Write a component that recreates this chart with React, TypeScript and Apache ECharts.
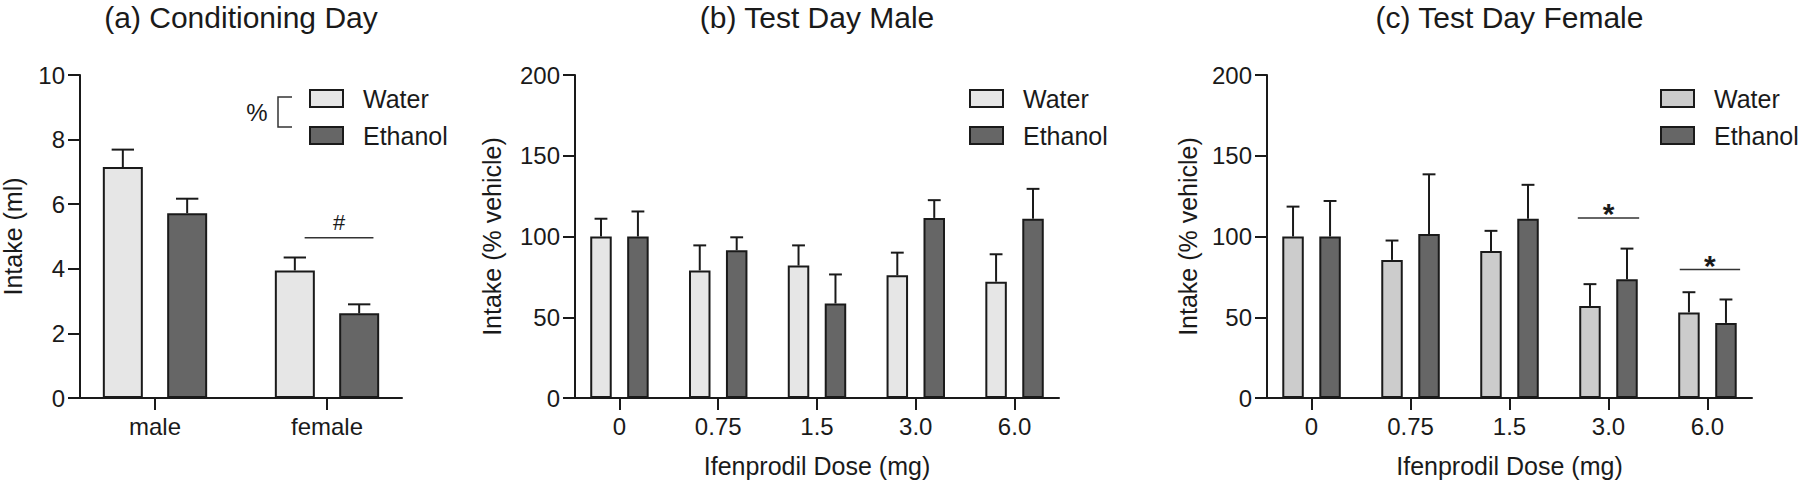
import { useEffect, useRef } from 'react';
import * as echarts from 'echarts';

// ---------- data ----------
const panelTitles = ['(a) Conditioning Day', '(b) Test Day Male', '(c) Test Day Female'];
const seriesNames = ['Water', 'Ethanol'];

const sexCategories = ['male', 'female'];
const condWater = [7.15, 3.95];
const condWaterErr = [0.54, 0.4];
const condEthanol = [5.72, 2.62];
const condEthanolErr = [0.45, 0.28];

const doseLabels = ['0', '0.75', '1.5', '3.0', '6.0'];
const maleWater = [100, 79, 82, 76, 72];
const maleWaterErr = [11, 15.5, 12.5, 14, 17];
const maleEthanol = [100, 91.5, 58.5, 111.5, 111];
const maleEthanolErr = [15.5, 8, 18, 11, 18.5];

const femaleWater = [100, 85.5, 91, 57, 53];
const femaleWaterErr = [18.5, 12, 12.5, 13.5, 12.5];
const femaleEthanol = [100, 101.5, 111, 73.5, 46.5];
const femaleEthanolErr = [22, 37, 21, 19, 14.5];

const condSig = [{ from: 0.87, to: 1.27, y: 4.96, mark: '#' }];
const femaleSig = [
  { from: 2.69, to: 3.31, y: 111.5, mark: '*' },
  { from: 3.72, to: 4.33, y: 79.5, mark: '*' },
];

const yNames = ['Intake (ml)', 'Intake (% vehicle)', 'Intake (% vehicle)'];
const xName = 'Ifenprodil Dose (mg)';

// ---------- style ----------
const FONT = "'Liberation Sans', Arial, Helvetica, sans-serif";
const INK = '#1a1a1a';
const WATER_LIGHT = '#e6e6e6';
const WATER_C = '#cccccc';
const ETHANOL = '#666666';
const OFFSET = 0.187; // group offset in category units
const CAP = 0.065; // error cap half width in category units

export default function App() {
  const ref = useRef<HTMLDivElement>(null);

  useEffect(() => {
    if (!ref.current) return;
    const chart = echarts.init(ref.current, undefined, { renderer: 'svg' });

    const grids = [
      { left: 80, top: 75, width: 322, height: 323 },
      { left: 575, top: 75, width: 484, height: 323 },
      { left: 1267, top: 75, width: 485, height: 323 },
    ];

    const xCats = [sexCategories, doseLabels, doseLabels];
    const xRanges = [
      [-0.436, 1.436],
      [-0.45, 4.45],
      [-0.45, 4.45],
    ];
    const yMax = [10, 200, 200];
    const yInt = [2, 50, 50];
    const yNameGap = [55, 71, 67];
    const barWidths = [40, 21.5, 21.5];

    const waterVals = [condWater, maleWater, femaleWater];
    const waterErrs = [condWaterErr, maleWaterErr, femaleWaterErr];
    const ethVals = [condEthanol, maleEthanol, femaleEthanol];
    const ethErrs = [condEthanolErr, maleEthanolErr, femaleEthanolErr];
    const waterColors = [WATER_LIGHT, WATER_LIGHT, WATER_C];
    const sigs = [condSig, [], femaleSig];

    const axisLine = { show: true, onZero: false, lineStyle: { color: INK, width: 2 } };
    const axisTick = { show: true, length: 12, lineStyle: { color: INK, width: 2 } };

    const xAxis = xCats.map((cats, i) => {
      const idx = cats.map((_, k) => k);
      return {
        type: 'value',
        gridIndex: i,
        min: xRanges[i][0],
        max: xRanges[i][1],
        axisLine,
        axisTick: { ...axisTick, customValues: idx },
        axisLabel: {
          customValues: idx,
          formatter: (v: number) => cats[Math.round(v)] ?? '',
          fontSize: 24,
          fontFamily: FONT,
          color: INK,
          margin: 16,
        },
        splitLine: { show: false },
        name: i === 0 ? '' : xName,
        nameLocation: 'middle',
        nameGap: 55,
        nameTextStyle: { fontSize: 25, fontFamily: FONT, color: INK },
      };
    });

    const yAxis = [0, 1, 2].map((i) => ({
      type: 'value',
      gridIndex: i,
      min: 0,
      max: yMax[i],
      interval: yInt[i],
      axisLine,
      axisTick,
      axisLabel: { fontSize: 24, fontFamily: FONT, color: INK, margin: 15 },
      splitLine: { show: false },
      name: yNames[i],
      nameLocation: 'middle',
      nameGap: yNameGap[i],
      nameTextStyle: { fontSize: 25, fontFamily: FONT, color: INK },
    }));

    const errRender = (params: any, api: any) => {
      const x = api.value(0);
      const y = api.value(1);
      const e = api.value(2);
      const base = api.coord([x, y]);
      const top = api.coord([x, y + e]);
      const l = api.coord([x - CAP, y + e]);
      const r = api.coord([x + CAP, y + e]);
      const st = { stroke: INK, lineWidth: 2 };
      return {
        type: 'group',
        children: [
          { type: 'line', shape: { x1: base[0], y1: base[1], x2: top[0], y2: top[1] }, style: st },
          { type: 'line', shape: { x1: l[0], y1: top[1], x2: r[0], y2: top[1] }, style: st },
        ],
      };
    };

    const series: any[] = [];
    [0, 1, 2].forEach((i) => {
      const groups = [
        { name: seriesNames[0], vals: waterVals[i], errs: waterErrs[i], color: waterColors[i], off: -OFFSET },
        { name: seriesNames[1], vals: ethVals[i], errs: ethErrs[i], color: ETHANOL, off: OFFSET },
      ];
      groups.forEach((g) => {
        series.push({
          type: 'bar',
          name: g.name,
          xAxisIndex: i,
          yAxisIndex: i,
          barWidth: barWidths[i],
          barGap: '-100%',
          data: g.vals.map((v, k) => [k + g.off, v]),
          itemStyle: { color: g.color, borderColor: INK, borderWidth: 2 },
          z: 2,
        });
        series.push({
          type: 'custom',
          name: g.name + ' SEM',
          xAxisIndex: i,
          yAxisIndex: i,
          encode: { x: 0, y: 1 },
          data: g.vals.map((v, k) => [k + g.off, v, g.errs[k]]),
          renderItem: errRender,
          z: 3,
        });
      });
      const sig = sigs[i];
      if (sig.length) {
        series.push({
          type: 'custom',
          name: 'significance',
          xAxisIndex: i,
          yAxisIndex: i,
          encode: { x: [0, 1], y: 2 },
          data: sig.map((s) => [s.from, s.to, s.y]),
          renderItem: (params: any, api: any) => {
            const p0 = api.coord([api.value(0), api.value(2)]);
            const p1 = api.coord([api.value(1), api.value(2)]);
            const mark = sig[params.dataIndex].mark;
            const isStar = mark === '*';
            return {
              type: 'group',
              children: [
                { type: 'line', shape: { x1: p0[0], y1: p0[1], x2: p1[0], y2: p1[1] }, style: { stroke: '#333', lineWidth: 1.5 } },
                {
                  type: 'text',
                  x: (p0[0] + p1[0]) / 2,
                  y: p0[1] - (isStar ? 4 : 15.5),
                  style: {
                    text: mark,
                    fill: INK,
                    fontSize: isStar ? 30 : 22,
                    fontWeight: isStar ? 'bold' : 'normal',
                    fontFamily: FONT,
                    align: 'center',
                    verticalAlign: 'middle',
                  },
                },
              ],
            };
          },
          z: 3,
        });
      }
    });

    const legendLefts = [309, 969, 1660];
    const legend = [0, 1, 2].map((i) => ({
      orient: 'vertical',
      left: legendLefts[i],
      top: 86,
      padding: 0,
      itemWidth: 33,
      itemHeight: 17,
      itemGap: 12,
      icon: 'rect',
      selectedMode: false,
      textStyle: { fontSize: 25, fontFamily: FONT, color: INK, lineHeight: 20, padding: [0, 0, 0, 15] },
      data: [
        { name: seriesNames[0], itemStyle: { color: waterColors[i], borderColor: INK, borderWidth: 2 } },
        { name: seriesNames[1], itemStyle: { color: ETHANOL, borderColor: INK, borderWidth: 2 } },
      ],
    }));

    const titleCenters = grids.map((g) => g.left + g.width / 2);
    const title = panelTitles.map((t, i) => ({
      text: t,
      left: titleCenters[i],
      top: 2,
      padding: 0,
      textAlign: 'center',
      textStyle: { fontSize: 30, fontWeight: 'normal', fontFamily: FONT, color: INK },
    }));

    chart.setOption({
      animation: false,
      backgroundColor: '#ffffff',
      title,
      legend,
      grid: grids.map((g) => ({ ...g, containLabel: false, outerBoundsMode: 'none' })),
      xAxis,
      yAxis,
      series,
      graphic: [
        {
          type: 'text',
          x: 257,
          y: 112,
          style: { text: '%', fill: INK, fontSize: 24, fontFamily: FONT, align: 'center', verticalAlign: 'middle' },
        },
        {
          type: 'polyline',
          shape: { points: [[292, 97], [278, 97], [278, 127], [292, 127]] },
          style: { stroke: '#333', lineWidth: 1.5, fill: 'none' },
        },
      ],
    });

    return () => chart.dispose();
  }, []);

  return (
    <div
      ref={ref}
      style={{ position: 'fixed', left: 0, top: 0, width: 1800, height: 482, background: '#fff' }}
    />
  );
}
